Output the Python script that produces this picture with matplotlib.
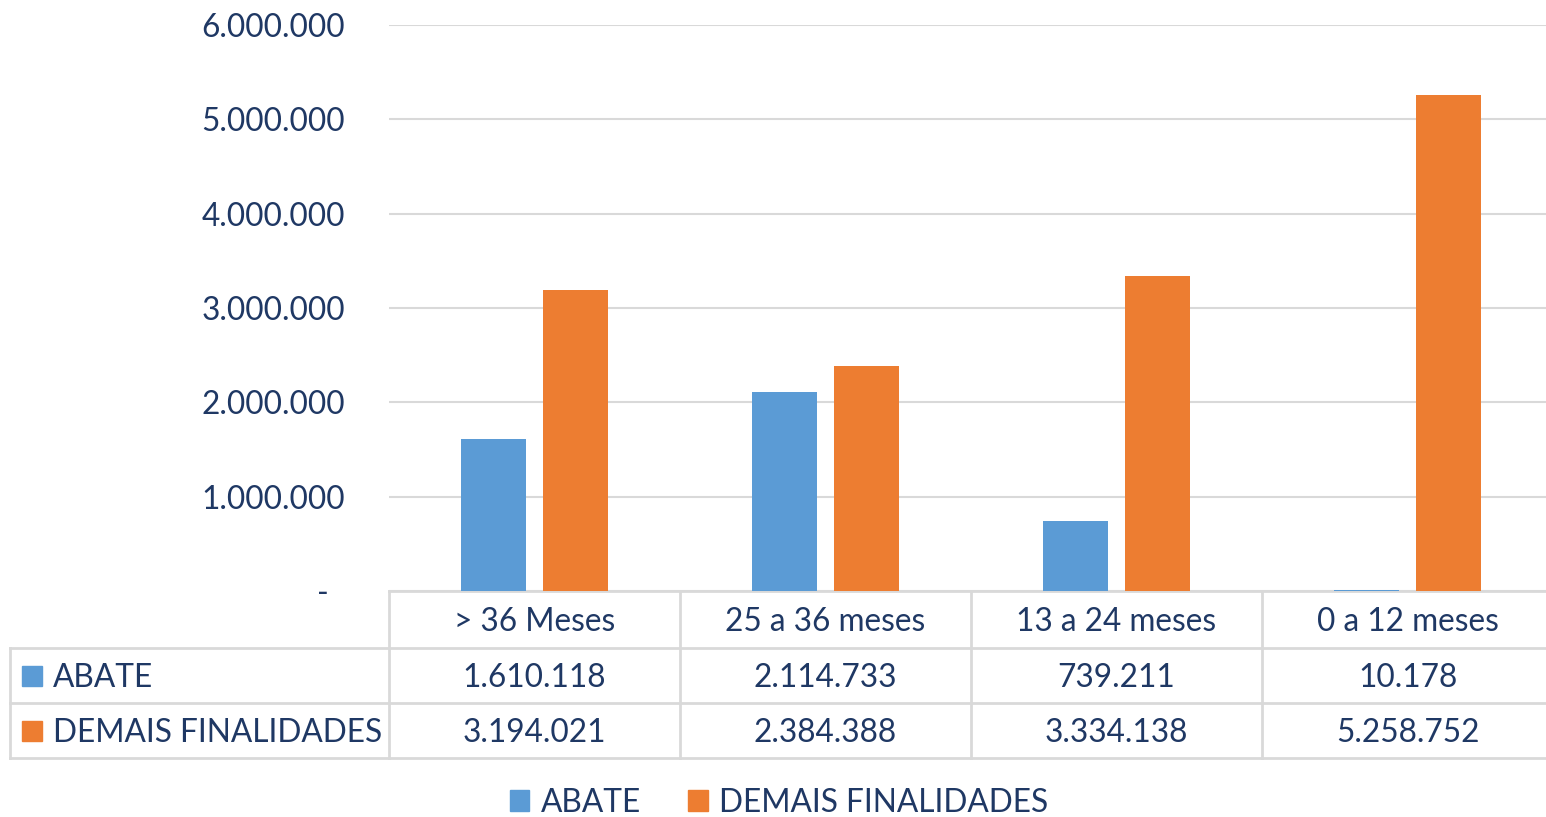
import matplotlib
matplotlib.use('Agg')
import matplotlib.pyplot as plt
from matplotlib.patches import Patch, Rectangle

plt.rcParams['font.family'] = ['Lato', 'DejaVu Sans']

# dados
categorias = ['> 36 Meses', '25 a 36 meses', '13 a 24 meses', '0 a 12 meses']
series = ['ABATE', 'DEMAIS FINALIDADES']
abate = [1610118, 2114733, 739211, 10178]
demais = [3194021, 2384388, 3334138, 5258752]
yticks = [0, 1000000, 2000000, 3000000, 4000000, 5000000, 6000000]

azul = '#5B9BD5'
laranja = '#ED7D31'
texto = '#1F3864'
grade = '#D9D9D9'
fs = 22.8


def fmt(v):
    if v == 0:
        return '-  '
    return f'{v:,}'.replace(',', '.')


W, H = 1546, 817
fig = plt.figure(figsize=(W / 100, H / 100), dpi=100)

# area do grafico
ax = fig.add_axes([389 / W, 1 - 591 / H, 1164 / W, 566 / H])
x = list(range(len(categorias)))
larg = 0.223
ax.bar([i - 0.141 for i in x], abate, larg, color=azul, zorder=3)
ax.bar([i + 0.142 for i in x], demais, larg, color=laranja, zorder=3)
ax.set_xlim(-0.5, len(categorias) - 0.5)
ax.set_ylim(0, 6000000)
ax.set_yticks(yticks)
ax.set_yticklabels([fmt(v) for v in yticks])
ax.set_xticks([])
ax.tick_params(axis='y', length=0, pad=31.7, labelsize=fs, labelcolor=texto)
ax.grid(axis='y', color=grade, lw=1.5, zorder=0)
for s in ax.spines.values():
    s.set_visible(False)

# tabela de dados
tab = fig.add_axes([0, 0, 1, 1])
tab.set_xlim(0, W)
tab.set_ylim(H, 0)
tab.axis('off')
tab.set_zorder(-1)

fig.canvas.draw()
bordas = [ax.transData.transform((i - 0.5, 0))[0] for i in range(len(categorias) + 1)]
linhas = [591, 648, 703, 758]
esq = 10
lw = 2
dy = 2.5

tab.plot([bordas[0], W + 10], [linhas[0]] * 2, color=grade, lw=lw, clip_on=False)
for yl in linhas[1:]:
    tab.plot([esq, W + 10], [yl] * 2, color=grade, lw=lw, clip_on=False)
tab.plot([esq, esq], [linhas[1], linhas[3]], color=grade, lw=lw)
for xb in bordas[:-1]:
    tab.plot([xb, xb], [linhas[0], linhas[3]], color=grade, lw=lw)

for i, c in enumerate(categorias):
    cx = (bordas[i] + bordas[i + 1]) / 2
    tab.text(cx, (linhas[0] + linhas[1]) / 2 + dy, c, ha='center', va='center',
             fontsize=fs, color=texto)
    tab.text(cx, (linhas[1] + linhas[2]) / 2 + dy, fmt(abate[i]), ha='center',
             va='center', fontsize=fs, color=texto)
    tab.text(cx, (linhas[2] + linhas[3]) / 2 + dy, fmt(demais[i]), ha='center',
             va='center', fontsize=fs, color=texto)

for k, (nome, cor) in enumerate(zip(series, [azul, laranja])):
    cy = (linhas[k + 1] + linhas[k + 2]) / 2
    tab.add_patch(Rectangle((22, cy - 10), 20, 20, color=cor))
    tab.text(53, cy + dy, nome, ha='left', va='center', fontsize=fs, color=texto)

# legenda
fig.legend(handles=[Patch(color=azul, label=series[0]),
                    Patch(color=laranja, label=series[1])],
           loc='center', bbox_to_anchor=(779 / W, 1 - 803 / H), ncol=2,
           frameon=False, fontsize=fs, labelcolor=texto,
           handlelength=0.63, handleheight=0.63, handletextpad=0.35,
           columnspacing=1.5, borderpad=0)

fig.savefig('out.png', dpi=100)
